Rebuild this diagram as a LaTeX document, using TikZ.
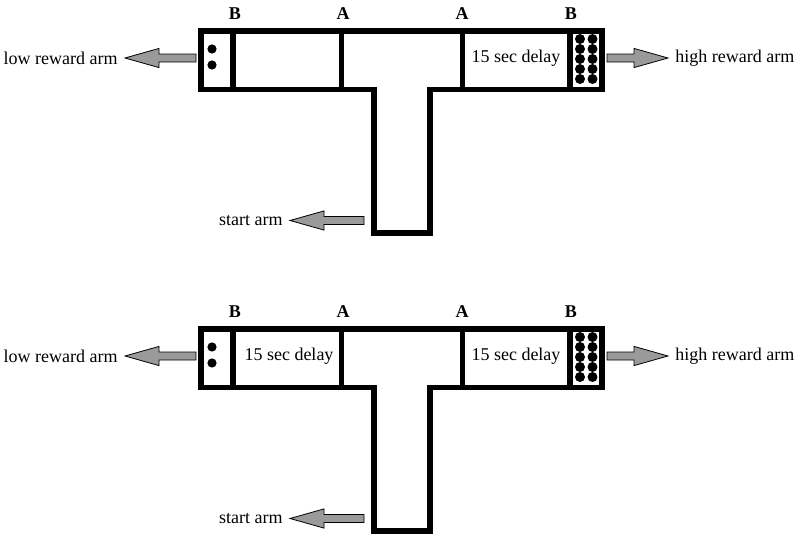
\documentclass[tikz,border=0pt]{standalone}
\usepackage{fontspec}
\setmainfont{Liberation Serif}
\usetikzlibrary{calc}
\definecolor{arrowgray}{HTML}{9A9A9A}

% block arrow from #1 to #2 (horizontal)
\newcommand\grayarrow[2]{%
  \filldraw[fill=arrowgray,draw=black,line width=0.4pt]
    let \p1=(#1), \p2=(#2), \n1={sign(\x2-\x1)} in
    (\x1,{\y1+2pt}) -- ({\x2-(\n1)*17pt},{\y1+2pt}) -- ({\x2-(\n1)*17pt},{\y1+4.8pt})
    -- (\x2,\y1) -- ({\x2-(\n1)*17pt},{\y1-4.8pt}) -- ({\x2-(\n1)*17pt},{\y1-2pt})
    -- (\x1,{\y1-2pt}) -- cycle;}

\begin{document}
\begin{tikzpicture}[x=0.5pt,y=-0.5pt,
  wall/.style={line width=2.6pt},
  armlabel/.style={inner xsep=3.5pt,inner ysep=0pt,font=\fontsize{9}{11}\selectfont},
  doorlabel/.style={inner sep=0pt,font=\fontsize{9}{11}\selectfont\bfseries},
  delaytext/.style={inner sep=0pt,font=\fontsize{9}{11}\selectfont}]
  % canvas 800 x 541
  \useasboundingbox (0,0) rectangle (800,541);

  \foreach \dy in {0,298}{
    \begin{scope}[shift={(0,\dy)}]
      % ---- maze walls ----
      \draw[wall] (201,31) -- (602,31) -- (602,89.5) -- (430,89.5) -- (430,233)
        -- (374,233) -- (374,89.5) -- (201,89.5) -- cycle;
      \foreach \x in {233,341.5,462.5,570}
        \draw[wall] (\x,31) -- (\x,89.5);

      % door labels
      \node[doorlabel] (bleft\dy) at (235,13.5) {B};
      \node[doorlabel] (aleft\dy) at (343,13.5) {A};
      \node[doorlabel] (aright\dy) at (462,13.5) {A};
      \node[doorlabel] (bright\dy) at (571,13.5) {B};

      % ---- pellets ----
      \foreach \cy in {49,65}
        \fill (212,\cy) circle (2.3pt);
      \foreach \cx in {580,592.5}
        \foreach \cy in {39,49,...,79}
          \fill (\cx,\cy) circle (2.5pt);

      % delay boxes
      \node[delaytext] (delayright\dy) at (516,58) {15 sec delay};
      \ifnum\dy>0
        \node[delaytext] (delayleft\dy) at (289,58) {15 sec delay};
      \fi

      % ---- arms ----
      \node[armlabel,anchor=east] (low\dy) at (125,58) {low reward arm};
      \node[armlabel,anchor=west] (high\dy) at (668,58) {high reward arm};
      \node[armlabel,anchor=east] (start\dy) at (290,220.5) {start arm};
      \coordinate (lowdoor\dy) at (196,58);
      \coordinate (highdoor\dy) at (607,58);
      \coordinate (startdoor\dy) at (364,220.5);
      \grayarrow{lowdoor\dy}{low\dy.east}
      \grayarrow{highdoor\dy}{high\dy.west}
      \grayarrow{startdoor\dy}{start\dy.east}
    \end{scope}
  }
\end{tikzpicture}
\end{document}
